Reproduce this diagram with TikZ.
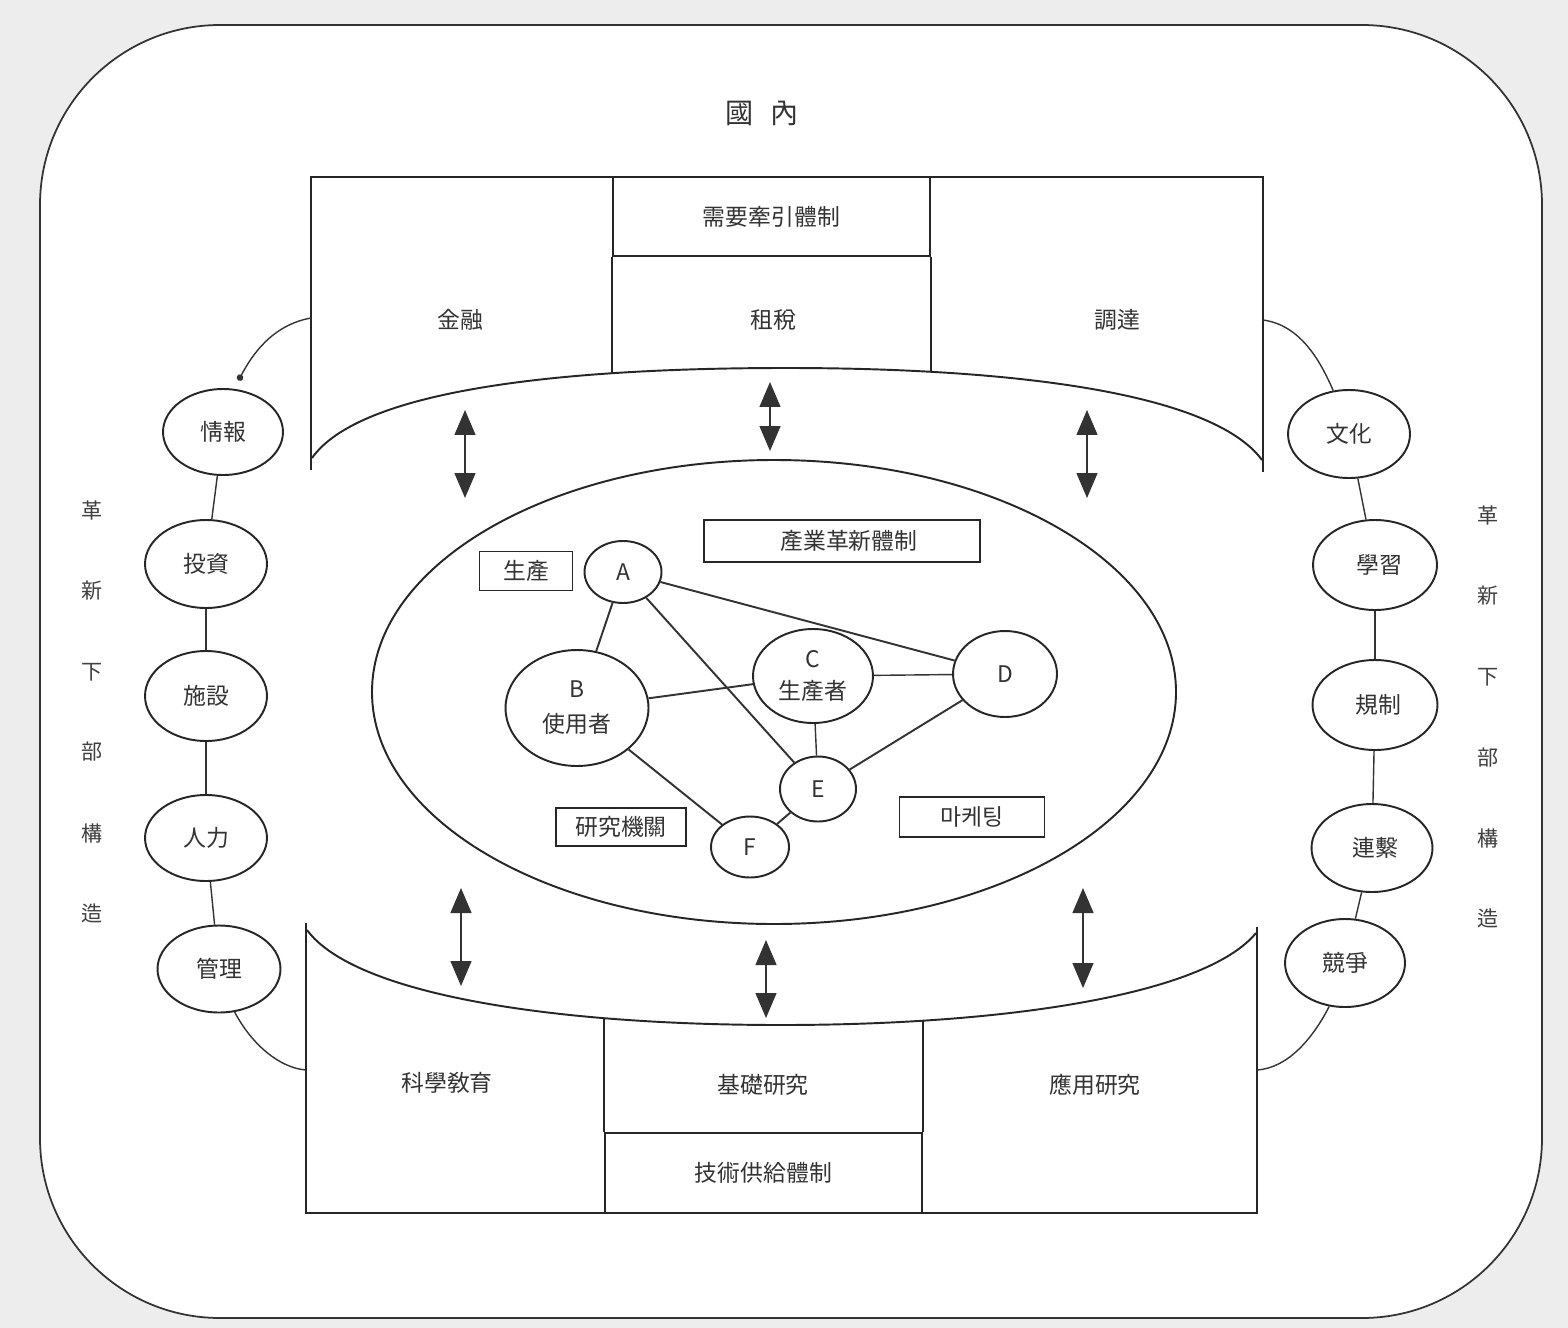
\documentclass[tikz,border=0pt]{standalone}
\usepackage{fontspec}
\setmainfont{Noto Sans CJK KR}
\usetikzlibrary{arrows.meta,shapes.geometric,calc}
\begin{document}
\begin{tikzpicture}[x=0.02cm,y=-0.02cm,
  mainline/.style={line width=1.1pt, draw=black!85},
  conn/.style={line width=0.8pt, draw=black!80},
  netline/.style={line width=1.1pt, draw=black!80},
  lbl/.style={font=\fontsize{13}{15}\selectfont, text=black!80, inner sep=1pt},
  vlbl/.style={font=\fontsize{12}{14}\selectfont, text=black!75, inner sep=1pt},
  oval/.style={ellipse, line width=1.1pt, draw=black!85, fill=white, inner sep=0pt, font=\fontsize{13}{15}\selectfont, text=black!80},
  boxnode/.style={rectangle, line width=1.1pt, draw=black!85, inner sep=0pt, font=\fontsize{13}{15}\selectfont, text=black!80},
  dbl/.style={line width=0.8pt, draw=black!80, {Triangle[width=0.42cm,length=0.5cm]}-{Triangle[width=0.42cm,length=0.5cm]}},
]
% background and frame
\fill[black!7] (0,0) rectangle (1568,1328);
\useasboundingbox (0,0) rectangle (1568,1328);
\draw[line width=1pt, draw=black!80, fill=white, rounded corners=3.6cm] (40,25) rectangle (1542,1318);

\node[lbl, font=\fontsize{16}{18}\selectfont] (guonei) at (762,113) {國\hspace{0.6em}內};

% ---------- top block ----------
\draw[mainline] (311,470) -- (311,177) -- (1263,177) -- (1263,472);
\draw[mainline] (312,458) .. controls (360,390) and (560,368) .. (786,368)
                .. controls (1010,368) and (1212,392) .. (1262,460);
\node[boxnode, minimum width=6.34cm, minimum height=1.58cm] (xuyao) at (771.5,216.5) {需要牽引體制};
\draw[mainline] (xuyao.south west) -- (xuyao.south west |- 0,373);
\draw[mainline] (xuyao.south east) -- (xuyao.south east |- 0,372);
\node[lbl] (jinrong) at (460,320) {金融};
\node[lbl] (zushui) at (773,320) {租稅};
\node[lbl] (diaoda) at (1117,320) {調達};

% ---------- bottom block ----------
\draw[mainline] (306,923) -- (306,1213) -- (1257,1213) -- (1257,927);
\draw[mainline] (307,930) .. controls (355,995) and (555,1025) .. (781,1025)
                .. controls (1005,1025) and (1205,995) .. (1256,933);
\node[boxnode, minimum width=6.34cm, minimum height=1.6cm] (jishu) at (763.5,1173) {技術供給體制};
\draw[mainline] (jishu.north west) -- (jishu.north west |- 0,1018);
\draw[mainline] (jishu.north east) -- (jishu.north east |- 0,1020);
\node[lbl] (kexue) at (447,1083) {科學敎育};
\node[lbl] (jichu) at (763,1085) {基礎研究};
\node[lbl] (yingyong) at (1095,1085) {應用研究};

% ---------- arrows ----------
\coordinate (a1t) at (465,410); \coordinate (a1b) at (465,498);
\coordinate (a2t) at (770,382); \coordinate (a2b) at (770,451);
\coordinate (a3t) at (1087,410); \coordinate (a3b) at (1087,498);
\coordinate (a4t) at (461,888); \coordinate (a4b) at (461,986);
\coordinate (a5t) at (766,940); \coordinate (a5b) at (766,1018);
\coordinate (a6t) at (1083,888); \coordinate (a6b) at (1083,988);
\draw[dbl] (a1t) -- (a1b);
\draw[dbl] (a2t) -- (a2b);
\draw[dbl] (a3t) -- (a3b);
\draw[dbl] (a4t) -- (a4b);
\draw[dbl] (a5t) -- (a5b);
\draw[dbl] (a6t) -- (a6b);

% ---------- central ellipse ----------
\draw[mainline] (774,692) ellipse [x radius=402, y radius=232];

% ---------- left infrastructure ----------
\node[oval, minimum width=2.4cm, minimum height=1.72cm] (qb) at (223,432) {情報};
\node[oval, minimum width=2.44cm, minimum height=1.76cm] (tz) at (206,564) {投資};
\node[oval, minimum width=2.44cm, minimum height=1.8cm] (ss) at (206,696) {施設};
\node[oval, minimum width=2.44cm, minimum height=1.72cm] (rl) at (206,838) {人力};
\node[oval, minimum width=2.46cm, minimum height=1.74cm] (gl) at (219,969) {管理};
\draw[conn] (qb) -- (tz);
\draw[conn] (tz) -- (ss);
\draw[conn] (ss) -- (rl);
\draw[conn] (rl) -- (gl);

% ---------- right infrastructure ----------
\node[oval, minimum width=2.44cm, minimum height=1.76cm] (wh) at (1349,434) {文化};
\node[oval, minimum width=2.48cm, minimum height=1.8cm] (xx) at (1375,565) {\hspace{0.4em}學習};
\node[oval, minimum width=2.5cm, minimum height=1.8cm] (gz) at (1375,705) {\raisebox{-0.3em}{\hspace{0.3em}規制}};
\node[oval, minimum width=2.42cm, minimum height=1.76cm] (lj) at (1372,848) {\hspace{0.3em}連繫};
\node[oval, minimum width=2.4cm, minimum height=1.76cm] (jz) at (1345,963) {競爭};
\draw[conn] (wh) -- (xx);
\draw[conn] (xx) -- (gz);
\draw[conn] (gz) -- (lj);
\draw[conn] (lj) -- (jz);

% side links to the blocks
\coordinate (tl) at (311,318);
\coordinate (tr) at (1263,320);
\coordinate (bl) at (306,1070);
\coordinate (br) at (1257,1070);
\draw[conn, -{Circle[length=0.13cm]}] (tl) .. controls (272,325) and (252,355) .. ($(qb.70)+(0,-9)$);
\draw[conn] (tr) .. controls (1300,325) and (1320,360) .. (wh.110);
\draw[conn] (gl.290) .. controls (252,1045) and (280,1068) .. (bl);
\draw[conn] (jz.250) .. controls (1312,1040) and (1287,1068) .. (br);

% vertical labels
\node[vlbl] (l1) at (92,510) {革};
\node[vlbl] (l2) at (92,591) {新};
\node[vlbl] (l3) at (92,672) {下};
\node[vlbl] (l4) at (92,752) {部};
\node[vlbl] (l5) at (92,833) {構};
\node[vlbl] (l6) at (92,913) {造};
\node[vlbl] (r1) at (1488,515) {革};
\node[vlbl] (r2) at (1488,596) {新};
\node[vlbl] (r3) at (1488,677) {下};
\node[vlbl] (r4) at (1488,758) {部};
\node[vlbl] (r5) at (1488,838) {構};
\node[vlbl] (r6) at (1488,918) {造};

% ---------- innovation network ----------
\node[boxnode, minimum width=1.86cm, minimum height=0.78cm] (sc) at (526,571) {生產};
\node[boxnode, minimum width=5.52cm, minimum height=0.84cm] (cy) at (842,541) {\hspace{0.6em}產業革新體制};
\node[boxnode, minimum width=2.6cm, minimum height=0.76cm] (yj) at (621,827) {研究機關};
\node[boxnode, minimum width=2.9cm, minimum height=0.8cm] (mk) at (972,817) {마케팅};

\node[oval, minimum width=1.54cm, minimum height=1.24cm] (A) at (623,572) {A};
\node[oval, minimum width=2.86cm, minimum height=2.32cm, align=center] (B) at (577,708) {B\\[5pt]使用者};
\node[oval, minimum width=2.4cm, minimum height=1.88cm, align=center] (C) at (813,676) {C\\[3pt]生產者};
\node[oval, minimum width=2.08cm, minimum height=1.72cm] (D) at (1005,674) {D};
\node[oval, minimum width=1.52cm, minimum height=1.3cm] (E) at (818,789) {E};
\node[oval, minimum width=1.56cm, minimum height=1.22cm] (F) at (750,847) {F};

\draw[netline] (A) -- (B);
\draw[netline] (A) -- (D);
\draw[netline] (A) -- (E);
\draw[netline] (B) -- (C);
\draw[conn] (C) -- (D);
\draw[conn] (C) -- (E);
\draw[netline] (D) -- (E);
\draw[netline] (B) -- (F);
\draw[netline] (E) -- (F);
\end{tikzpicture}
\end{document}
